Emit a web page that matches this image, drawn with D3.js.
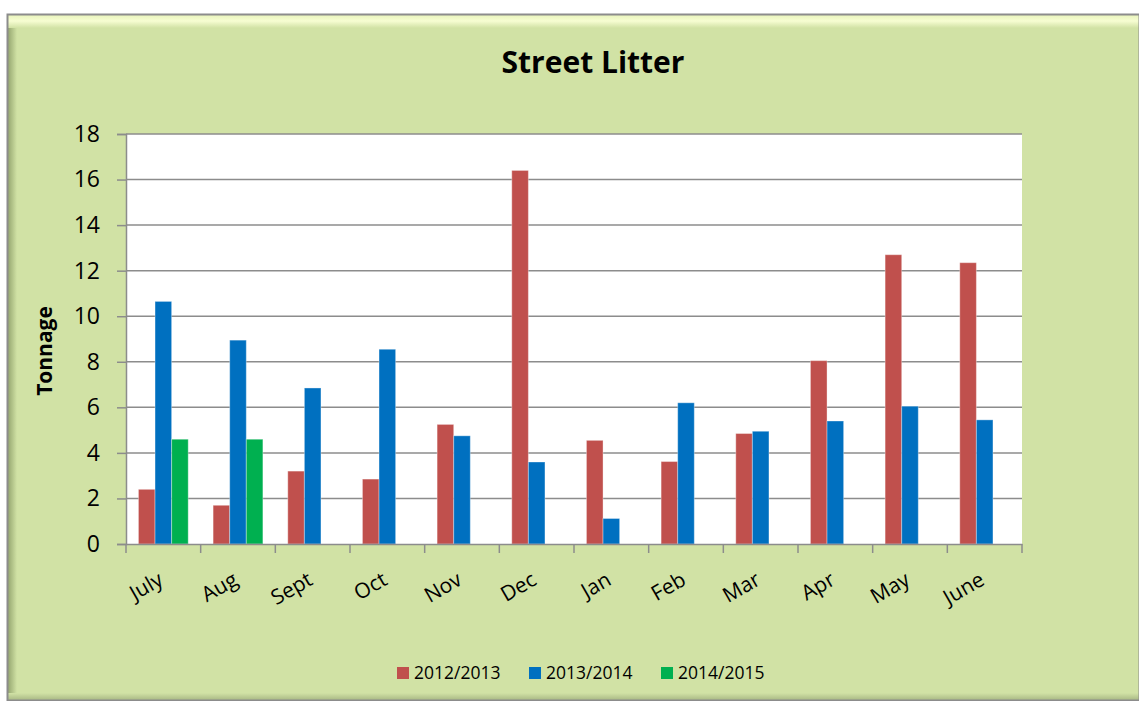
<!DOCTYPE html>
<html>
<head>
<meta charset="utf-8">
<script src="https://cdn.jsdelivr.net/npm/d3@7"></script>
<style>
  body { margin: 0; background: #fff; }
  text { font-family: "Open Sans", "DejaVu Sans", sans-serif; }
</style>
</head>
<body>
<div id="chart"></div>
<script>
// data
var months = ["July", "Aug", "Sept", "Oct", "Nov", "Dec", "Jan", "Feb", "Mar", "Apr", "May", "June"];
var seriesNames = ["2012/2013", "2013/2014", "2014/2015"];
var y2012 = [2.4, 1.7, 3.2, 2.85, 5.25, 16.4, 4.55, 3.62, 4.85, 8.05, 12.7, 12.35];
var y2013 = [10.65, 8.95, 6.85, 8.55, 4.75, 3.6, 1.12, 6.2, 4.95, 5.4, 6.05, 5.45];
var y2014 = [4.6, 4.6, null, null, null, null, null, null, null, null, null, null];
var yTicks = [0, 2, 4, 6, 8, 10, 12, 14, 16, 18];

var colors = ["#c0504d", "#0070c0", "#00b050"];
var allSeries = [y2012, y2013, y2014];

var width = 1139, height = 701;
var margin = { left: 126, right: 1139 - 1022, top: 134, bottom: 701 - 544 };

var svg = d3.select("#chart").append("svg")
  .attr("width", width)
  .attr("height", height);

var defs = svg.append("defs");
var gl = defs.append("linearGradient").attr("id", "leftBevel").attr("x1", 0).attr("x2", 1);
gl.append("stop").attr("offset", 0).attr("stop-color", "#8fa06a");
gl.append("stop").attr("offset", 1).attr("stop-color", "#d1e2a5");
var gt = defs.append("linearGradient").attr("id", "topBevel").attr("x1", 0).attr("x2", 0).attr("y1", 0).attr("y2", 1);
gt.append("stop").attr("offset", 0).attr("stop-color", "#e6f3b8");
gt.append("stop").attr("offset", 0.5).attr("stop-color", "#f7fdd2");
gt.append("stop").attr("offset", 1).attr("stop-color", "#d1e2a5");
var gb = defs.append("linearGradient").attr("id", "botBevel").attr("x1", 0).attr("x2", 0).attr("y1", 0).attr("y2", 1);
gb.append("stop").attr("offset", 0).attr("stop-color", "#d1e2a5");
gb.append("stop").attr("offset", 1).attr("stop-color", "#a9b985");

// frame with bevel
var fx = 7, fy = 14, fw = 1139 - 7, fh = 700 - 14;
svg.append("rect").attr("x", fx).attr("y", fy).attr("width", fw).attr("height", fh)
  .attr("fill", "#d1e2a5");
svg.append("rect").attr("x", fx).attr("y", fy).attr("width", 10).attr("height", fh)
  .attr("fill", "url(#leftBevel)");
svg.append("rect").attr("x", fx).attr("y", fy).attr("width", fw).attr("height", 14)
  .attr("fill", "url(#topBevel)");
svg.append("rect").attr("x", fx).attr("y", fy + fh - 7).attr("width", fw).attr("height", 7)
  .attr("fill", "url(#botBevel)");
svg.append("rect").attr("x", fx + 0.5).attr("y", fy + 0.5).attr("width", fw).attr("height", fh)
  .attr("fill", "none").attr("stroke", "#8c8c8c").attr("stroke-width", 2);

var x0 = d3.scaleBand()
  .domain(months)
  .range([margin.left, width - margin.right])
  .padding(0);

var x1 = d3.scaleBand()
  .domain(d3.range(seriesNames.length))
  .range([0, x0.bandwidth()])
  .paddingInner(0)
  .paddingOuter(0.75);

var y = d3.scaleLinear()
  .domain([0, 18])
  .range([height - margin.bottom, margin.top]);

// plot area
svg.append("rect")
  .attr("x", margin.left).attr("y", margin.top)
  .attr("width", x0.range()[1] - margin.left)
  .attr("height", y(0) - margin.top)
  .attr("fill", "#fff");

// gridlines
svg.append("g")
  .selectAll("line")
  .data(yTicks.slice(1))
  .enter().append("line")
  .attr("x1", margin.left).attr("x2", x0.range()[1])
  .attr("y1", function(d) { return y(d); })
  .attr("y2", function(d) { return y(d); })
  .attr("stroke", "#8c8c8c")
  .attr("stroke-width", 1.5);

// bars
var groups = svg.append("g")
  .selectAll("g")
  .data(months)
  .enter().append("g")
  .attr("transform", function(d) { return "translate(" + x0(d) + ",0)"; });

groups.selectAll("rect")
  .data(function(m, i) {
    return allSeries.map(function(s, k) { return { k: k, v: s[i] }; })
      .filter(function(d) { return d.v != null; });
  })
  .enter().append("rect")
  .attr("x", function(d) { return x1(d.k); })
  .attr("width", x1.bandwidth())
  .attr("y", function(d) { return y(d.v); })
  .attr("height", function(d) { return y(0) - y(d.v); })
  .attr("fill", function(d) { return colors[d.k]; })
  .attr("stroke", "rgba(255,255,255,0.35)")
  .attr("stroke-width", 1);

// y axis
var yAxis = svg.append("g")
  .attr("transform", "translate(" + margin.left + ",0)")
  .call(d3.axisLeft(y).tickValues(yTicks).tickSize(9).tickPadding(17));
yAxis.select(".domain").attr("stroke", "#8c8c8c").attr("stroke-width", 1.5);
yAxis.selectAll(".tick line").attr("stroke", "#8c8c8c").attr("stroke-width", 1.5);
yAxis.selectAll(".tick text")
  .style("font-size", "23px")
  .attr("fill", "#000");

// x axis
var xAxis = svg.append("g")
  .attr("transform", "translate(0," + y(0) + ")")
  .call(d3.axisBottom(x0).tickSize(0).tickFormat(""));
xAxis.select(".domain").attr("stroke", "#8c8c8c").attr("stroke-width", 1.5);

svg.append("g")
  .selectAll("line")
  .data(months.map(function(m) { return x0(m); }).concat([x0.range()[1]]))
  .enter().append("line")
  .attr("x1", function(d) { return d; }).attr("x2", function(d) { return d; })
  .attr("y1", y(0)).attr("y2", y(0) + 9)
  .attr("stroke", "#8c8c8c").attr("stroke-width", 1.5);

svg.append("g")
  .selectAll("text")
  .data(months)
  .enter().append("text")
  .attr("transform", function(d) {
    return "translate(" + (x0(d) + x0.bandwidth() / 2 - 6) + "," + (y(0) + 27) + ") rotate(-30)";
  })
  .attr("text-anchor", "end")
  .attr("dy", "0.7em")
  .style("font-size", "21px")
  .text(function(d) { return d; });

// title
svg.append("text")
  .attr("x", 593).attr("y", 73)
  .attr("text-anchor", "middle")
  .style("font-size", "30px")
  .style("font-weight", "bold")
  .text("Street Litter");

// y label
svg.append("text")
  .attr("transform", "translate(52,351) rotate(-90)")
  .attr("text-anchor", "middle")
  .style("font-size", "21px")
  .style("font-weight", "bold")
  .text("Tonnage");

// legend
var legendX = [397, 529, 661];
var legend = svg.append("g")
  .selectAll("g")
  .data(seriesNames)
  .enter().append("g")
  .attr("transform", function(d, i) { return "translate(" + legendX[i] + ",667)"; });
legend.append("rect")
  .attr("width", 12).attr("height", 12)
  .attr("fill", function(d, i) { return colors[i]; });
legend.append("text")
  .attr("x", 17).attr("y", 12)
  .style("font-size", "17.5px")
  .text(function(d) { return d; });
</script>
</body>
</html>
